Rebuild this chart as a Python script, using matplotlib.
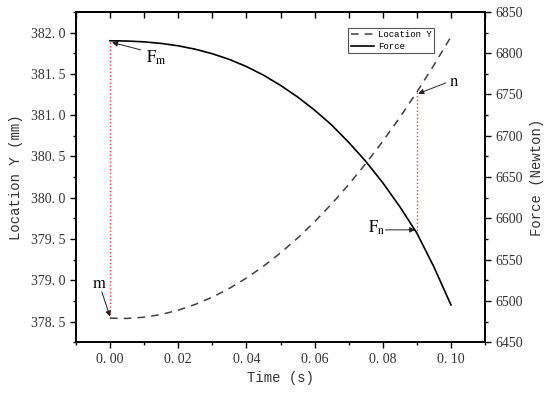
import matplotlib
matplotlib.use("Agg")
import matplotlib.pyplot as plt
from matplotlib.ticker import MultipleLocator

# ---- data ----
time_s = [0.000, 0.005, 0.010, 0.015, 0.020, 0.025, 0.030, 0.035, 0.040, 0.045,
          0.050, 0.055, 0.060, 0.065, 0.070, 0.075, 0.080, 0.085, 0.090, 0.095, 0.100]
location_y = [378.540, 378.537, 378.552, 378.585, 378.637, 378.707, 378.795, 378.901,
              379.026, 379.169, 379.331, 379.510, 379.708, 379.924, 380.159, 380.412,
              380.683, 380.972, 381.280, 381.606, 381.950]
force_n = [6815.0, 6814.7, 6813.7, 6811.8, 6808.9, 6804.8, 6799.3, 6792.4, 6783.8,
           6773.4, 6761.0, 6747.0, 6731.0, 6713.0, 6692.0, 6669.0, 6643.0, 6614.0,
           6582.0, 6541.0, 6495.0]
idx_m = 0
idx_n = 18

xlim = (-0.01, 0.11)
ylim_left = (378.25, 382.25)
ylim_right = (6450, 6850)

plt.rcParams['mathtext.fontset'] = 'stix'
mono = 'Liberation Mono'
serif = 'Liberation Serif'

fig = plt.figure(figsize=(5.5, 3.96), dpi=100)
ax = fig.add_axes([0.138, 0.136, 0.744, 0.834])
ax2 = ax.twinx()

ax.plot(time_s, location_y, color='#404040', lw=1.1, dashes=(5, 4), label='Location Y')
ax2.plot(time_s, force_n, color='black', lw=1.2, label='Force')

ax.set_xlim(*xlim)
ax.set_ylim(*ylim_left)
ax2.set_ylim(*ylim_right)

# red dotted connector lines (convert force to left-axis units)
def f2l(f):
    return ylim_left[0] + (f - ylim_right[0]) * (ylim_left[1] - ylim_left[0]) / (ylim_right[1] - ylim_right[0])

for i in (idx_m, idx_n):
    ax.plot([time_s[i], time_s[i]], [location_y[i], f2l(force_n[i])],
            color='#e8474a', lw=1.0, ls=(0, (1, 1.6)), zorder=1)

# ticks
ax.xaxis.set_major_locator(MultipleLocator(0.02))
ax.xaxis.set_minor_locator(MultipleLocator(0.01))
ax.yaxis.set_major_locator(MultipleLocator(0.5))
ax.yaxis.set_minor_locator(MultipleLocator(0.25))
ax2.yaxis.set_major_locator(MultipleLocator(50))
ax2.yaxis.set_minor_locator(MultipleLocator(25))

ax.xaxis.set_major_formatter(plt.FuncFormatter(lambda v, p: f"{v:.2f}".replace('.', '. ')))
ax.yaxis.set_major_formatter(plt.FuncFormatter(lambda v, p: f"{v:.1f}".replace('.', '. ')))
ax2.yaxis.set_major_formatter(plt.FuncFormatter(lambda v, p: f"{v:.0f}"))

ax.tick_params(axis='both', which='major', direction='out', length=4.5, width=1.0,
               labelsize=10, colors='black', pad=3)
ax.tick_params(axis='both', which='minor', direction='out', length=2.5, width=1.0)
ax2.tick_params(axis='y', which='major', direction='out', length=4.5, width=1.0, labelsize=10, pad=3)
ax2.tick_params(axis='y', which='minor', direction='out', length=2.5, width=1.0)
for lab in ax.get_xticklabels() + ax.get_yticklabels() + ax2.get_yticklabels():
    lab.set_fontfamily(serif)
    lab.set_color('#333333')

# top ticks inward
secx = ax.secondary_xaxis('top')
secx.xaxis.set_major_locator(MultipleLocator(0.02))
secx.xaxis.set_minor_locator(MultipleLocator(0.01))
secx.tick_params(which='major', direction='in', length=4.5, width=1.0, labeltop=False)
secx.tick_params(which='minor', direction='in', length=4.5, width=1.0)
ax.tick_params(axis='x', which='both', top=False)
secx.spines['top'].set_linewidth(1.2)

for a in (ax, ax2):
    for s in a.spines.values():
        s.set_linewidth(1.2)

ax.set_xlabel('Time (s)', fontfamily=mono, fontsize=10, color='#333333', labelpad=4)
ax.set_ylabel('Location Y (mm)', fontfamily=mono, fontsize=10, color='#333333', labelpad=6)
ax2.set_ylabel('Force (Newton)', fontfamily=mono, fontsize=10, color='#333333', labelpad=5)

# annotations
arrow = dict(arrowstyle='-|>', color='#222222', lw=0.7, mutation_scale=8, shrinkA=0, shrinkB=0)
ax.annotate('', xy=(time_s[idx_m] + 0.0006, f2l(force_n[idx_m]) - 0.02),
            xytext=(0.009, 381.79), arrowprops=arrow)
ax.text(0.0105, 381.69, r'$\mathrm{F_m}$', fontsize=12, va='center', ha='left')

ax.annotate('', xy=(time_s[idx_m], location_y[idx_m] + 0.02),
            xytext=(-0.0024, 378.86), arrowprops=arrow)
ax.text(-0.0032, 378.97, r'$\mathrm{m}$', fontsize=12, va='center', ha='center')

ax.annotate('', xy=(time_s[idx_n] + 0.0004, location_y[idx_n] - 0.02),
            xytext=(0.0985, 381.39), arrowprops=arrow)
ax.text(0.0995, 381.41, r'$\mathrm{n}$', fontsize=12, va='center', ha='left')

ax.annotate('', xy=(time_s[idx_n] - 0.0005, 379.61),
            xytext=(0.0808, 379.61), arrowprops=arrow)
ax.text(0.0806, 379.63, r'$\mathrm{F_n}$', fontsize=12, va='center', ha='right')

# legend
h1, l1 = ax.get_legend_handles_labels()
h2, l2 = ax2.get_legend_handles_labels()
leg = ax2.legend(h1 + h2, l1 + l2, loc='upper left', bbox_to_anchor=(0.665, 0.952),
                 prop={'family': mono, 'size': 6.5}, frameon=True, fancybox=False,
                 edgecolor='#555555', framealpha=1, borderpad=0.3, labelspacing=0.25,
                 handlelength=2.6, handletextpad=0.4, borderaxespad=0)
leg.get_frame().set_linewidth(0.8)

fig.savefig('out.png', dpi=100)
